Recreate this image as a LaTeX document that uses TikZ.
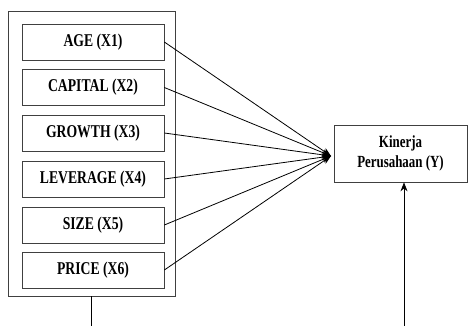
\documentclass[tikz,border=0pt]{standalone}
\usepackage{fontspec}
\setmainfont{Liberation Serif}[FakeStretch=0.76]
\usetikzlibrary{arrows.meta}
\begin{document}
\begin{tikzpicture}[x=1pt,y=-1pt,
  box/.style={draw=black!75,line width=0.7pt,minimum width=142pt,minimum height=36pt,inner sep=0pt,font=\fontsize{18}{20}\selectfont\bfseries},
  link/.style={line width=0.8pt,-{Stealth[length=9pt,width=7pt]}}]
\useasboundingbox (0,0) rectangle (468,326);
\node[draw=black!75,line width=0.7pt,minimum width=167pt,minimum height=285pt,inner sep=0pt] (outer) at (91.5,153.5) {};
\node[box] (x1) at (93,42) {AGE (X1)};
\node[box] (x2) at (93,87.5) {CAPITAL (X2)};
\node[box] (x3) at (93,133) {GROWTH (X3)};
\node[box] (x4) at (93,179) {LEVERAGE (X4)};
\node[box] (x5) at (93,225) {SIZE (X5)};
\node[box] (x6) at (93,270) {PRICE (X6)};
\node[draw=black!75,line width=0.7pt,minimum width=133pt,minimum height=57pt,inner sep=0pt,align=center,
  font=\fontsize{17}{20}\selectfont\bfseries] (y) at (400.5,153.5) {Kinerja\\Perusahaan (Y)};
\coordinate (hub) at (331,156);
\foreach \n in {x1,x2,x3,x4,x5,x6} \draw[link] (\n.east) -- (hub);
\coordinate (ob) at (91.5,326);
\draw[line width=0.8pt] (outer.south) -- (ob);
\coordinate (yb) at (404,326);
\draw[link] (yb) -- (yb |- y.south);
\end{tikzpicture}
\end{document}
